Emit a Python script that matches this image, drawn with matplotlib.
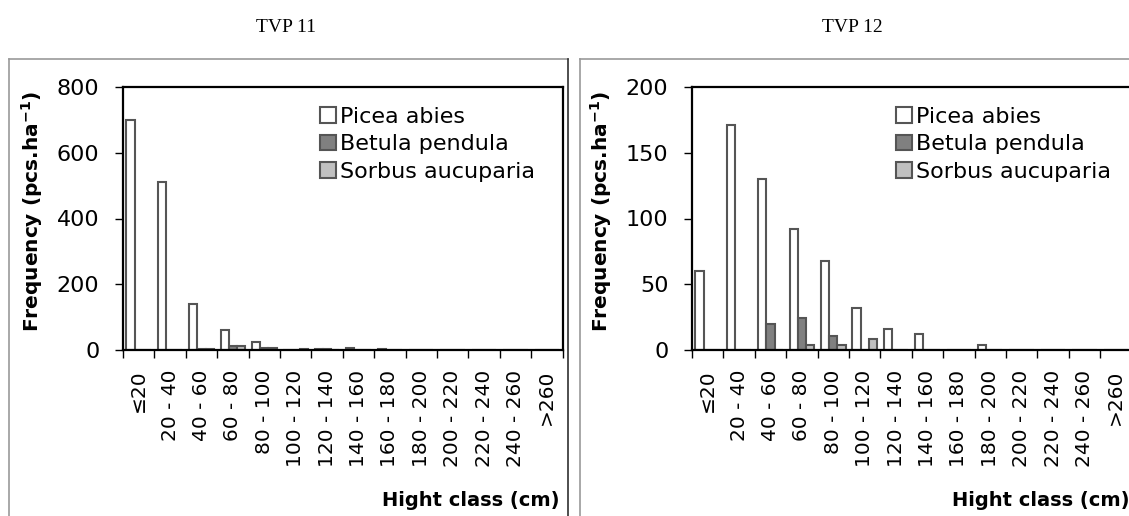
import numpy as np
import matplotlib
matplotlib.use("Agg")
import matplotlib.pyplot as plt
from matplotlib.lines import Line2D

# Height classes (cm)
classes = ["≤20", "20 - 40", "40 - 60", "60 - 80", "80 - 100", "100 - 120",
           "120 - 140", "140 - 160", "160 - 180", "180 - 200", "200 - 220",
           "220 - 240", "240 - 260", ">260"]

species = ["Picea abies", "Betula pendula", "Sorbus aucuparia"]

# Frequency (pcs/ha) per height class, plot TVP 11
tvp11_picea = [700, 512, 140, 60, 25, 0, 3, 6, 3, 0, 0, 0, 0, 0]
tvp11_betula = [0, 0, 3, 12, 6, 0, 3, 0, 0, 0, 0, 0, 0, 0]
tvp11_sorbus = [0, 0, 3, 12, 6, 2, 0, 0, 0, 0, 0, 0, 0, 0]

# Frequency (pcs/ha) per height class, plot TVP 12
tvp12_picea = [60, 171, 130, 92, 68, 32, 16, 12, 0, 4, 0, 0, 0, 0]
tvp12_betula = [0, 0, 20, 24, 11, 0, 0, 0, 0, 0, 0, 0, 0, 0]
tvp12_sorbus = [0, 0, 0, 4, 4, 8, 0, 0, 0, 0, 0, 0, 0, 0]

W, H = 1129, 516
fig = plt.figure(figsize=(W / 100, H / 100), dpi=100)

FACE = ["white", "#808080", "#c0c0c0"]
EDGE = "#555555"


def px(x, y):
    """Pixel position (from top-left) to figure fraction."""
    return x / W, 1 - y / H


# Panel frames
for x0, x1, right_col in [(9, 568, "#303030"), (580, 1135, "#9a9a9a")]:
    fig.add_artist(Line2D([x0 / W, x0 / W], [0, 1 - 59 / H], color="#9a9a9a",
                          lw=1.2, transform=fig.transFigure))
    fig.add_artist(Line2D([x0 / W, x1 / W], [1 - 59 / H, 1 - 59 / H],
                          color="#9a9a9a", lw=1.2, transform=fig.transFigure))
    fig.add_artist(Line2D([x1 / W, x1 / W], [0, 1 - 59 / H], color=right_col,
                          lw=1.2, transform=fig.transFigure))


def panel(left_px, data, ymax, ystep, title, title_x, ylab_x, legend_x):
    ax = fig.add_axes([left_px / W, (H - 350) / H, 439.5 / W, 263 / H])
    x = np.arange(len(classes))
    w = 0.26
    for k, (vals, fc) in enumerate(zip(data, FACE)):
        ax.bar(x + (k - 1) * w, vals, w, facecolor=fc, edgecolor=EDGE,
               linewidth=1.5, label=species[k], zorder=2)
    ax.set_xlim(-0.5, len(classes) - 0.5)
    ax.set_ylim(0, ymax)
    ax.set_yticks(np.arange(0, ymax + 1, ystep))
    ax.tick_params(axis="y", direction="out", length=6, width=1,
                   pad=11, labelsize=16)
    ax.set_xticks(np.arange(len(classes) + 1) - 0.5)
    ax.set_xticklabels([])
    ax.set_xticks(x, minor=True)
    ax.set_xticklabels(classes, minor=True, rotation=90, fontsize=14.5,
                       va="top", ha="center")
    ax.tick_params(axis="x", which="major", direction="out", length=6,
                   width=1)
    ax.tick_params(axis="x", which="minor", length=0, pad=14)
    for s in ax.spines.values():
        s.set_linewidth(1.6)
        s.set_color("black")
        s.set_zorder(3)

    fig.text(*px(title_x, 27), title, family="Liberation Serif", fontsize=14,
             ha="center", va="center")
    fig.text(*px(ylab_x, 212), r"Frequency (pcs.ha$^{\mathbf{-1}}$)",
             rotation=90, fontsize=14.5, fontweight="bold",
             ha="center", va="center")
    fig.text(*px(left_px + 437, 500), "Hight class (cm)", fontsize=14,
             fontweight="bold", ha="right", va="center")
    ax.legend(loc="upper left", bbox_to_anchor=px(legend_x, 107),
              bbox_transform=fig.transFigure, frameon=False, fontsize=16,
              handlelength=0.7, handleheight=0.7, handletextpad=0.2,
              labelspacing=0.33, borderpad=0, borderaxespad=0)
    return ax


panel(123, [tvp11_picea, tvp11_betula, tvp11_sorbus], 800, 200,
      "TVP 11", 286, 32, 320)
panel(692, [tvp12_picea, tvp12_betula, tvp12_sorbus], 200, 50,
      "TVP 12", 852, 601, 896)

fig.savefig("out.png", dpi=100)
